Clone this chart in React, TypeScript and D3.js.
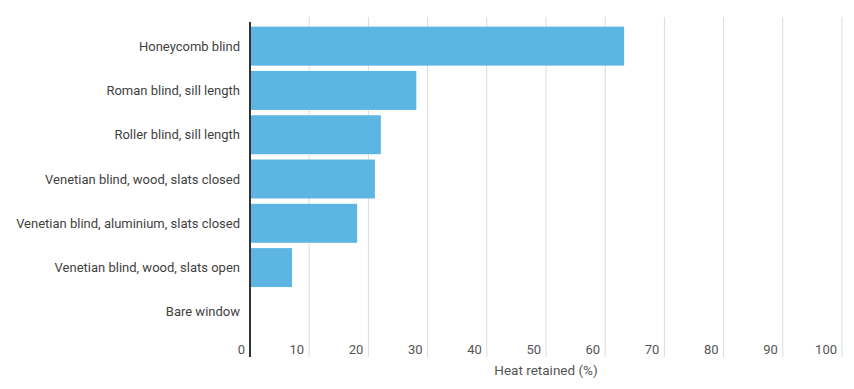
import React from 'react';
import * as d3 from 'd3';

const categories = [
  'Honeycomb blind',
  'Roman blind, sill length',
  'Roller blind, sill length',
  'Venetian blind, wood, slats closed',
  'Venetian blind, aluminium, slats closed',
  'Venetian blind, wood, slats open',
  'Bare window',
];
const heatRetained = [63.2, 28.1, 22.1, 21.1, 18.1, 7.1, 0];
const xTicks = [0, 10, 20, 30, 40, 50, 60, 70, 80, 90, 100];

const W = 854;
const H = 389;

const App = () => {
  const x = d3.scaleLinear().domain([0, 100]).range([250, 842]);
  const y = d3.scaleBand()
    .domain(categories)
    .range([24, 334])
    .paddingInner(0.12)
    .paddingOuter(0.06);

  const font = 'Roboto, "Noto Sans", sans-serif';

  return (
    <svg width={W} height={H} style={{ position: 'absolute', left: 0, top: 0 }}>
      {/* grid */}
      {xTicks.filter(t => t > 0).map(t => (
        <line key={t} x1={x(t)} x2={x(t)} y1={17} y2={357} stroke="#dcdcdc" strokeWidth={1} />
      ))}
      {/* bars */}
      {categories.map((c, i) => (
        <rect key={c} x={x(0)} y={y(c)} width={x(heatRetained[i]) - x(0)} height={y.bandwidth()} fill="#5db5e3" />
      ))}
      {/* axis line */}
      <line x1={x(0)} x2={x(0)} y1={22} y2={357} stroke="#333" strokeWidth={2} />
      {/* category labels */}
      {categories.map(c => (
        <text key={c} x={240} y={(y(c) ?? 0) + y.bandwidth() / 2} dy="0.35em" textAnchor="end"
          fontFamily={font} fontSize={13} fill="#3f3f3f">{c}</text>
      ))}
      {/* tick labels */}
      {xTicks.map(t => (
        <text key={t} x={x(t) - 5} y={349} dy="0.35em" textAnchor="end"
          fontFamily={font} fontSize={13} fill="#555">{t}</text>
      ))}
      <text x={(x(0) + x(100)) / 2} y={370} dy="0.35em" textAnchor="middle"
        fontFamily={font} fontSize={13.5} fill="#555">Heat retained (%)</text>
    </svg>
  );
};

export default App;
